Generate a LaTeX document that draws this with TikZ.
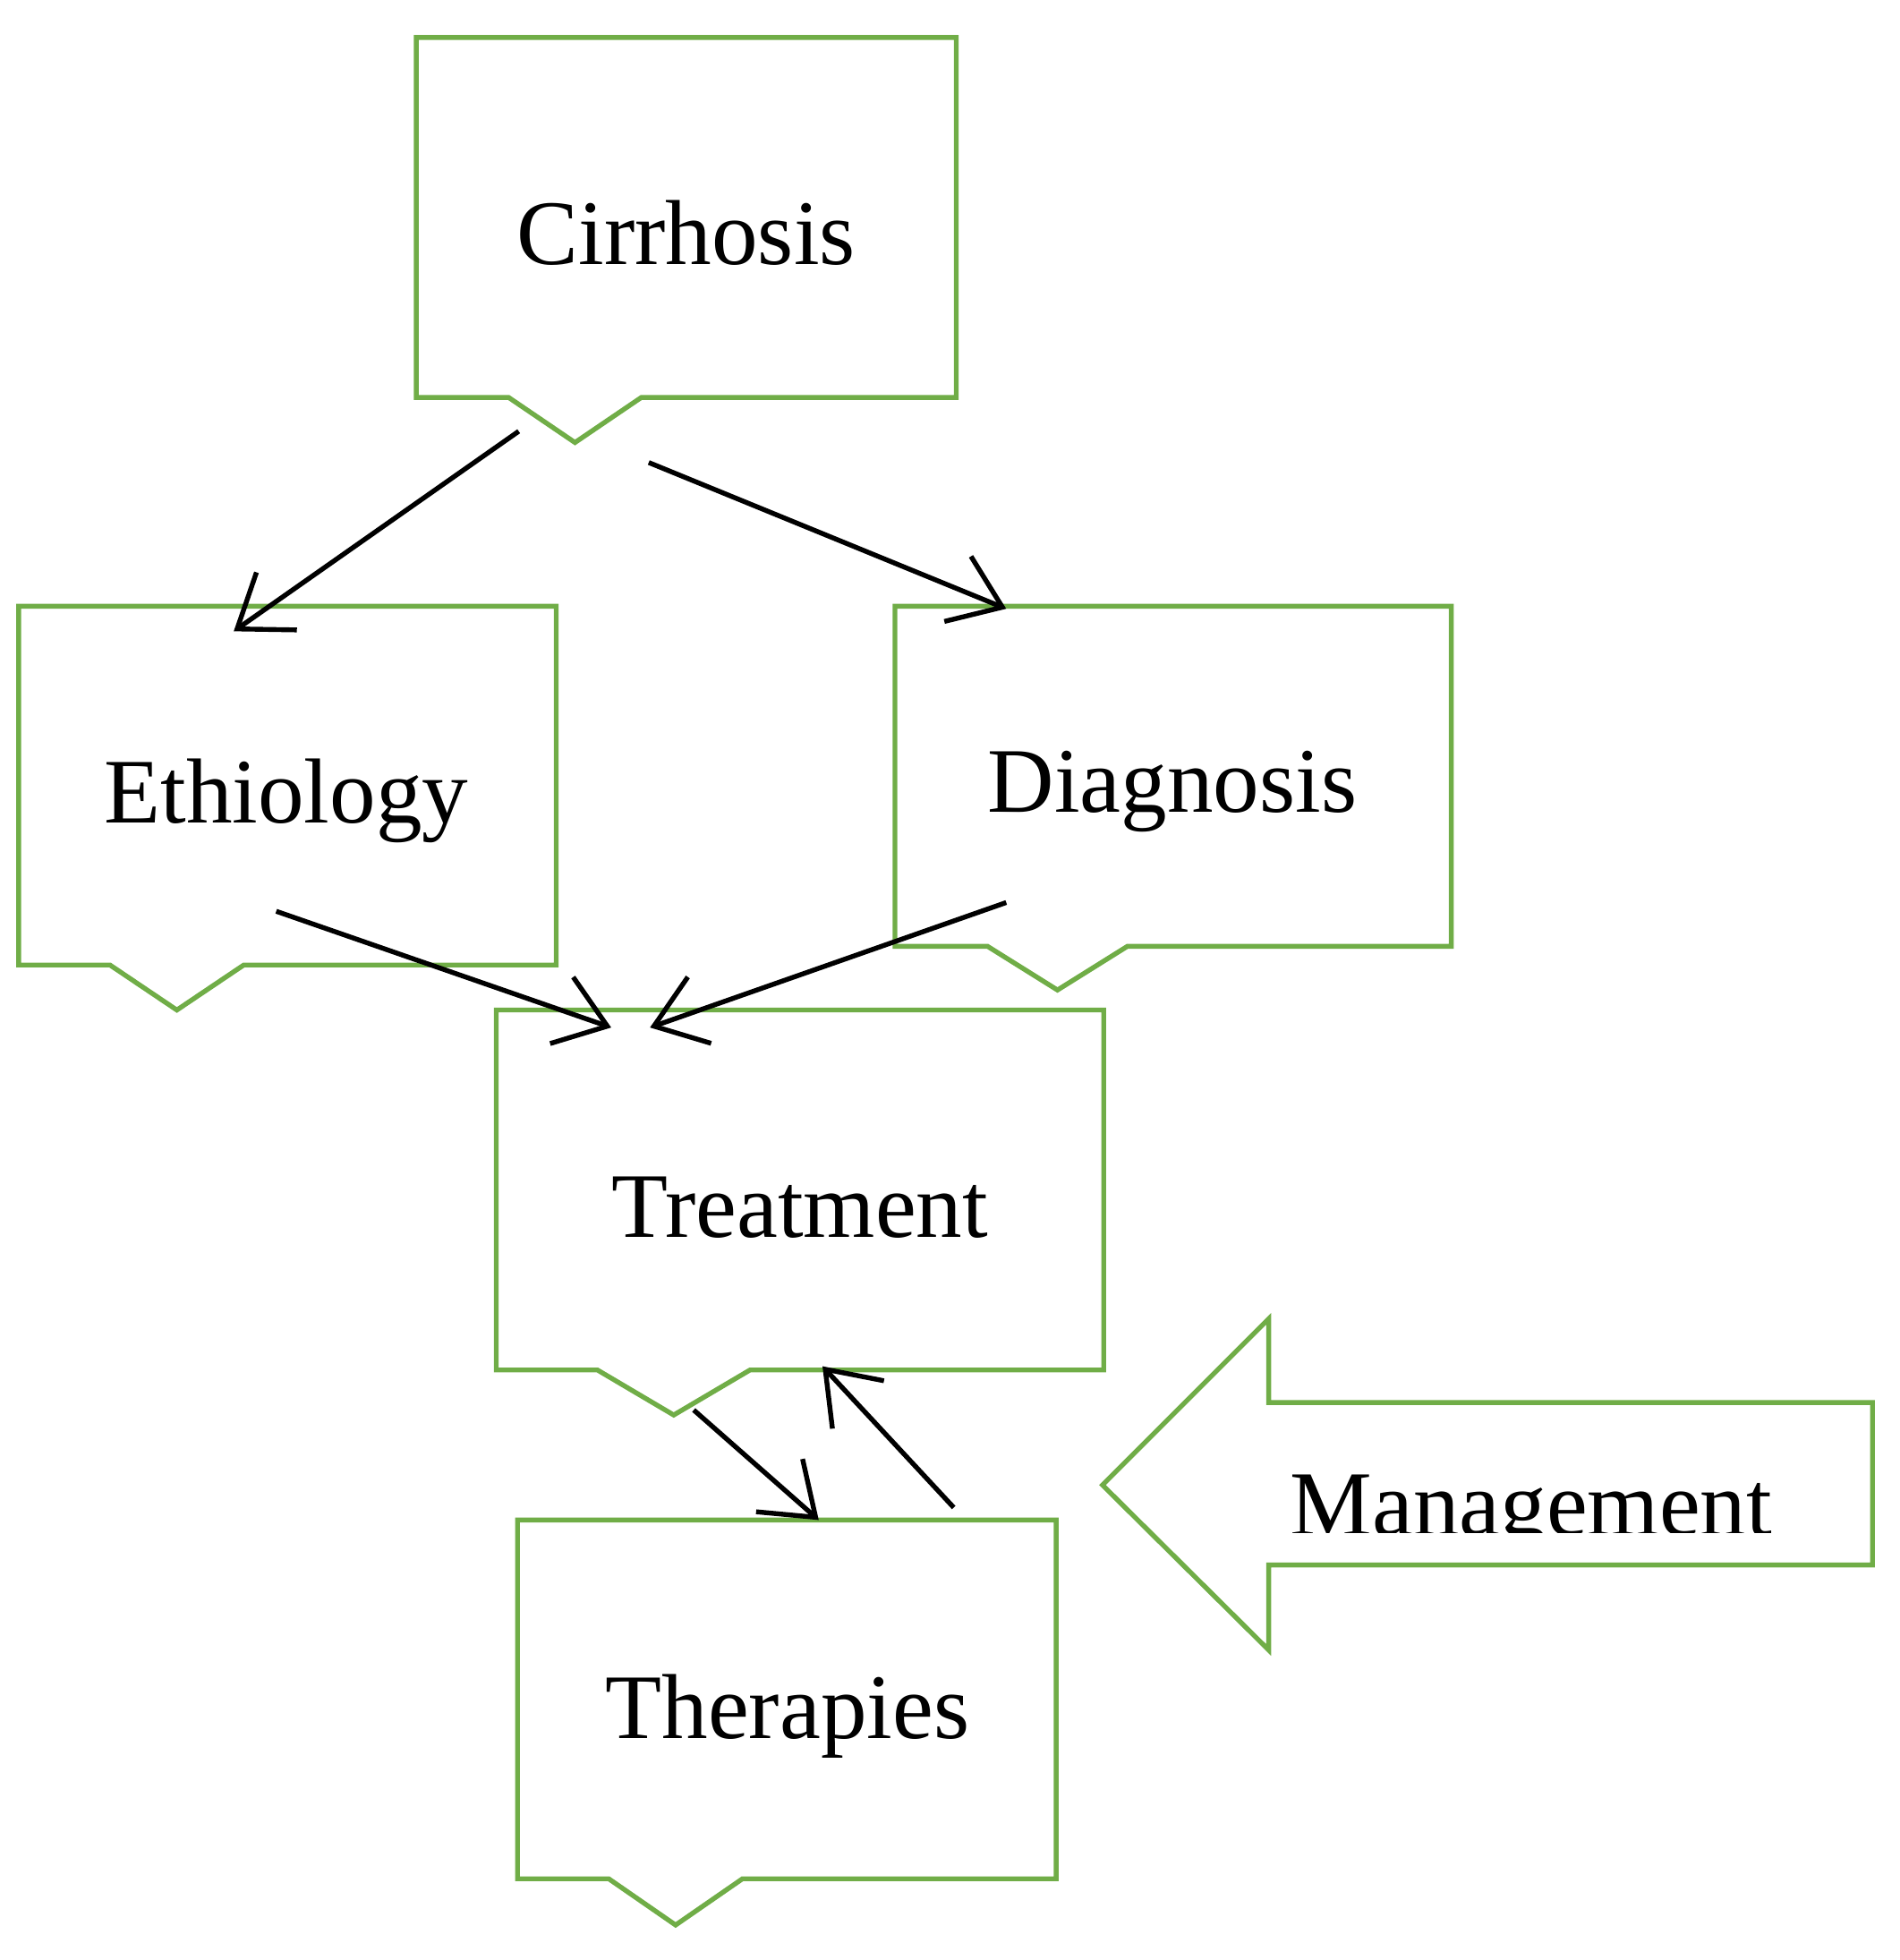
\documentclass[tikz,border=0pt]{standalone}
\usepackage{fontspec}
\setmainfont{Liberation Serif}
\usetikzlibrary{positioning,calc,arrows.meta}
\definecolor{boxgreen}{HTML}{70AD47}
\tikzset{
  box/.style={draw=none,inner sep=0pt,font=\fontsize{21}{25}\selectfont},
  outline/.style={draw=boxgreen,line width=1.1pt,line join=miter},
  link/.style={-{Straight Barb[length=11pt,width=16pt,line width=1.1pt]},line width=1.1pt,black}
}
% callout box: #1 left, #2 top, #3 right, #4 bottom, #5 notch left, #6 notch right, #7 tip depth
\newcommand{\callbox}[7]{%
  \draw[outline] (#1,#2) -- (#3,#2) -- (#3,#4) -- (#6,#4) -- ({(#5+#6)/2},#7) -- (#5,#4) -- (#1,#4) -- cycle;}
\begin{document}
\begin{tikzpicture}[x=0.01cm,y=-0.01cm]
  \useasboundingbox (0,0) rectangle (1520,1568);
  % boxes
  \callbox{333}{30}{765}{318}{407}{513}{354}
  \callbox{15}{485}{445}{772}{88}{195}{808}
  \callbox{716}{485}{1161}{757}{790}{902}{792}
  \callbox{397}{808}{883}{1096}{478}{600}{1132}
  \callbox{414}{1216}{845}{1503}{487}{594}{1540}
  \draw[outline] (882,1188) -- (1015,1055) -- (1015,1122) -- (1498,1122)
    -- (1498,1252) -- (1015,1252) -- (1015,1320) -- cycle;
  % labels
  \node[box] (cirrhosis) at (549,186) {Cirrhosis};
  \node[box] (ethiology) at (229,641) {Ethiology};
  \node[box] (diagnosis) at (938,633) {Diagnosis};
  \node[box] (treatment) at (640,966) {Treatment};
  \node[box] (therapies) at (630,1373) {Therapies};
  \begin{scope}
    \clip (1020,1100) rectangle (1490,1226);
    \node[box] (management) at (1225,1212) {Management};
  \end{scope}
  % connector ends
  \coordinate (c1) at (415,345); \coordinate (e1) at (187,505);
  \coordinate (c2) at (519,370); \coordinate (d1) at (805,487);
  \coordinate (e2) at (221,729); \coordinate (t1) at (489,822);
  \coordinate (d2) at (805,722); \coordinate (t2) at (520,822);
  \coordinate (t3) at (555,1128); \coordinate (h1) at (655,1216);
  \coordinate (h2) at (763,1206); \coordinate (t4) at (658,1093);
  \draw[link] (c1) -- (e1);
  \draw[link] (c2) -- (d1);
  \draw[link] (e2) -- (t1);
  \draw[link] (d2) -- (t2);
  \draw[link] (t3) -- (h1);
  \draw[link] (h2) -- (t4);
\end{tikzpicture}
\end{document}
